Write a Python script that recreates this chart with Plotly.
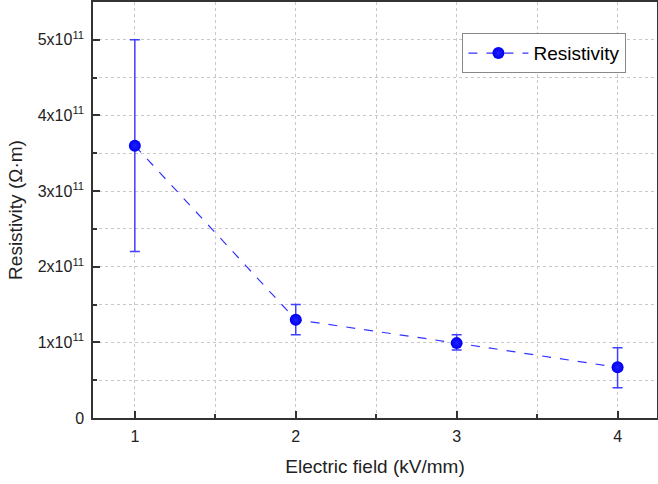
import plotly.graph_objects as go

field = [1, 2, 3, 4]
resistivity = [3.6e11, 1.3e11, 0.99e11, 0.67e11]
err_plus = [1.4e11, 0.2e11, 0.11e11, 0.26e11]
err_minus = [1.4e11, 0.2e11, 0.09e11, 0.27e11]
ytick_vals = [0, 1e11, 2e11, 3e11, 4e11, 5e11]
ytick_text = ["0", "1x10<sup>11</sup>", "2x10<sup>11</sup>", "3x10<sup>11</sup>",
              "4x10<sup>11</sup>", "5x10<sup>11</sup>"]

fig = go.Figure()
fig.add_trace(go.Scatter(
    x=field, y=resistivity, mode="lines+markers", name="Resistivity",
    line=dict(color="#3333ff", width=1.2, dash="dash"),
    marker=dict(size=12, color="#0000f0",
                gradient=dict(type="radial", color="#2020ff"),
                line=dict(width=0)),
    error_y=dict(type="data", symmetric=False, array=err_plus, arrayminus=err_minus,
                 color="#4040ff", thickness=1.5, width=5),
))

grid = dict(showgrid=True, gridcolor="#c8c8c8", griddash="dot", gridwidth=1)
fig.update_layout(
    width=658, height=484,
    margin=dict(l=93, r=1, t=2, b=66, autoexpand=False),
    paper_bgcolor="white", plot_bgcolor="white",
    font=dict(family="Liberation Sans, Arial, sans-serif", color="black", size=16),
    showlegend=True,
    legend=dict(x=0.655, y=0.925, xanchor="left", yanchor="top",
                bordercolor="#888888", borderwidth=1, bgcolor="white",
                itemwidth=60,
                font=dict(size=19, color="black")),
    xaxis=dict(range=[0.74, 4.245], tickvals=field, ticks="inside", ticklen=7,
               tickwidth=1.5, tickcolor="#333333", tickfont=dict(size=16, color="#222222"),
               ticklabelstandoff=3,
               showline=True, linecolor="#333333", linewidth=1.5, mirror=True,
               title=dict(text="Electric field (kV/mm)", font=dict(size=19, color="#222222"), standoff=16),
               minor=dict(dtick=0.5, tick0=0, ticks="inside", ticklen=4,
                          tickcolor="#333333", showgrid=True, gridcolor="#c8c8c8", griddash="dot"),
               zeroline=False, automargin=False, **grid),
    yaxis=dict(range=[0, 5.5e11], tickvals=ytick_vals, ticktext=ytick_text,
               ticks="inside", ticklen=7, tickwidth=1.5, tickcolor="#333333",
               tickfont=dict(size=16, color="#222222"), ticklabelstandoff=4,
               showline=True, linecolor="#333333", linewidth=1.5, mirror=True,
               title=dict(text="Resistivity (Ω·m)", font=dict(size=19, color="#222222"), standoff=10),
               minor=dict(dtick=0.5e11, tick0=0, ticks="inside", ticklen=4,
                          tickcolor="#333333", showgrid=True, gridcolor="#c8c8c8", griddash="dot"),
               zeroline=False, automargin=False, **grid),
)
fig.write_html("out.html", config={"displayModeBar": False},
               post_script="document.body.style.margin='0';")
